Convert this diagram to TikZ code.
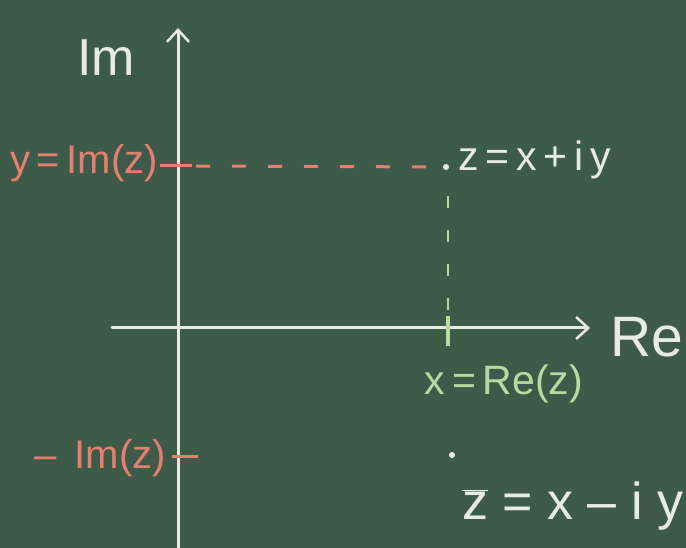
\documentclass[tikz,border=0pt]{standalone}
\usepackage{fontspec}
\setmainfont{Liberation Sans}
\usetikzlibrary{arrows.meta}
\definecolor{board}{HTML}{3E5A49}
\definecolor{chalk}{HTML}{E6ECE4}
\definecolor{pinkchalk}{HTML}{E58070}
\definecolor{greenchalk}{HTML}{B9D9A2}
\tikzset{
  chalkline/.style={line width=3pt, line cap=round, draw=chalk},
  axisarrow/.style={chalkline, -{Straight Barb[length=12pt,width=22pt,line width=2.5pt]}},
  pinklabel/.style={text=pinkchalk, font=\fontsize{40}{42}\selectfont, inner sep=0pt},
  greenlabel/.style={text=greenchalk, font=\fontsize{41}{43}\selectfont, inner sep=0pt},
  whitelabel/.style={text=chalk, font=\fontsize{41}{43}\selectfont, inner sep=0pt},
  dashpink/.style={line width=3pt, draw=pinkchalk, dash pattern=on 14pt off 22pt},
  dashgreen/.style={line width=2.5pt, draw=greenchalk, dash pattern=on 12pt off 22pt},
  pt/.style={circle, fill=chalk, inner sep=0pt, minimum size=6pt}
}
\begin{document}
\begin{tikzpicture}[x=1pt,y=-1pt]
\useasboundingbox (0,0) rectangle (686,548);
\fill[board] (0,0) rectangle (686,548);
% axes
\coordinate (ybot) at (178,548);
\coordinate (ytop) at (178,28);
\coordinate (xleft) at (112,328);
\coordinate (xright) at (590,328);
\draw[axisarrow] (ybot) -- (ytop);
\draw[axisarrow] (xleft) -- (xright);
% axis labels
\node[whitelabel, font=\fontsize{52}{54}\selectfont] (im) at (106,58) {Im};
\node[whitelabel, font=\fontsize{57}{59}\selectfont] (re) at (647,337) {Re};
% point z
\node[pt] (z) at (446,167) {};
\node[whitelabel, anchor=west] (zlab) at (458,160) {z\,=\,x\,+\,i\,y};
% ticks
\coordinate (ty1) at (160,166);
\coordinate (ty2) at (192,166);
\draw[line width=3pt, draw=pinkchalk] (ty1) -- (ty2);
\coordinate (tn1) at (172,456);
\coordinate (tn2) at (198,456);
\draw[line width=3pt, draw=pinkchalk] (tn1) -- (tn2);
\coordinate (tx1) at (448,316);
\coordinate (tx2) at (448,346);
\draw[line width=3.5pt, draw=greenchalk] (tx1) -- (tx2);
% dashed projections
\coordinate (dstart) at (196,166);
\draw[dashpink] (dstart) -- (z);
\coordinate (vstart) at (448,196);
\coordinate (vend) at (448,312);
\draw[dashgreen] (vstart) -- (vend);
% labels
\node[pinklabel, anchor=east] (ylab) at (158,163) {y\,=\,Im(z)};
\node[greenlabel] (xlab) at (504,384) {x\,=\,Re(z)};
\node[pinklabel, anchor=east] (nimlab) at (166,458) {–\;\,Im(z)};
% conjugate
\node[pt] (zb) at (452,455) {};
\node[whitelabel, anchor=west, font=\fontsize{52}{54}\selectfont] (zblab) at (462,506) {$\overline{\mbox{z}}$\;=\;x\;–\;i\;y};
\end{tikzpicture}
\end{document}
